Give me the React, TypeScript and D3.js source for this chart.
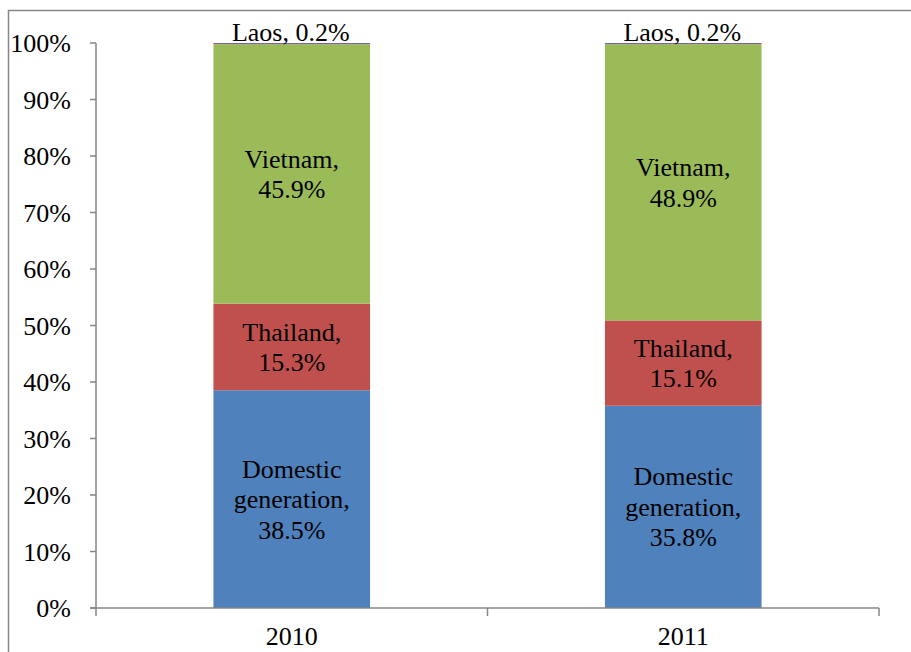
import * as d3 from 'd3'
import React, { useRef, useEffect } from 'react'

const years = ['2010', '2011']
const sources = ['Domestic generation', 'Thailand', 'Vietnam', 'Laos']
const domestic = [38.5, 35.8]
const thailand = [15.3, 15.1]
const vietnam = [45.9, 48.9]
const laos = [0.2, 0.2]
const yTicks = [0, 10, 20, 30, 40, 50, 60, 70, 80, 90, 100]
const colors = ['#4F81BD', '#C0504D', '#9BBB59', '#8064A2']

const labelLines: Record<string, (v: number) => string[]> = {
  'Domestic generation': (v) => ['Domestic', 'generation,', `${v.toFixed(1)}%`],
  Thailand: (v) => ['Thailand,', `${v.toFixed(1)}%`],
  Vietnam: (v) => ['Vietnam,', `${v.toFixed(1)}%`],
}

export default function App() {
  const svgRef = useRef(null)
  const width = 911
  const height = 652

  useEffect(() => {
    const svg = d3.select(svgRef.current)
    svg.selectAll('*').remove()

    const font = '"Liberation Serif", "Times New Roman", serif'
    const left = 96, right = 879, top = 43, bottom = 608

    // chart frame
    svg.append('path')
      .attr('d', `M8.5,${height + 5}V10.5H${width + 5}`)
      .attr('fill', 'none')
      .attr('stroke', '#868686')
      .attr('stroke-width', 1.5)

    const rows = years.map((year, i) => ({
      year,
      'Domestic generation': domestic[i],
      Thailand: thailand[i],
      Vietnam: vietnam[i],
      Laos: laos[i],
    }))

    const stacked = d3.stack<any>().keys(sources).offset(d3.stackOffsetExpand)(rows)

    const x = d3.scaleBand().domain(years).range([left, right]).paddingInner(0.6).paddingOuter(0.3)
    const y = d3.scaleLinear().domain([0, 1]).range([bottom, top])

    const g = svg.append('g')

    stacked.forEach((layer, li) => {
      g.selectAll(null)
        .data(layer)
        .join('rect')
        .attr('x', (d) => x(d.data.year)!)
        .attr('width', x.bandwidth())
        .attr('y', (d) => y(d[1]))
        .attr('height', (d) => Math.max(1, y(d[0]) - y(d[1])))
        .attr('fill', colors[li])
    })

    // segment labels
    const fs = 26
    const lh = 30.5
    stacked.forEach((layer) => {
      const key = layer.key
      layer.forEach((d) => {
        const cx = x(d.data.year)! + x.bandwidth() / 2
        const v = d.data[key] as number
        if (key === 'Laos') {
          g.append('text')
            .attr('x', cx - 1)
            .attr('y', y(d[1]) - 2)
            .attr('text-anchor', 'middle')
            .attr('font-family', font)
            .attr('font-size', fs)
            .attr('fill', '#000')
            .text(`Laos, ${v.toFixed(1)}%`)
          return
        }
        const lines = labelLines[key](v)
        const cy = (y(d[0]) + y(d[1])) / 2
        lines.forEach((line, k) => {
          g.append('text')
            .attr('x', cx)
            .attr('y', cy + 0.35 * fs + (k - (lines.length - 1) / 2) * lh)
            .attr('text-anchor', 'middle')
            .attr('font-family', font)
            .attr('font-size', fs)
            .attr('fill', '#000')
            .text(line)
        })
      })
    })

    // y axis
    const yAxis = svg.append('g')
    yAxis.append('line')
      .attr('x1', left).attr('x2', left)
      .attr('y1', top).attr('y2', bottom)
      .attr('stroke', '#868686').attr('stroke-width', 1.5)
    yTicks.forEach((t) => {
      const ty = y(t / 100)
      yAxis.append('line')
        .attr('x1', left - 6).attr('x2', left)
        .attr('y1', ty).attr('y2', ty)
        .attr('stroke', '#868686').attr('stroke-width', 1.5)
      yAxis.append('text')
        .attr('x', 71)
        .attr('y', ty + 9)
        .attr('text-anchor', 'end')
        .attr('font-family', font)
        .attr('font-size', fs)
        .attr('fill', '#000')
        .text(`${t}%`)
    })

    // x axis
    const xAxis = svg.append('g')
    xAxis.append('line')
      .attr('x1', left - 6).attr('x2', right)
      .attr('y1', bottom).attr('y2', bottom)
      .attr('stroke', '#868686').attr('stroke-width', 1.5)
    const boundaries = [left, (left + right) / 2, right]
    boundaries.forEach((bx) => {
      xAxis.append('line')
        .attr('x1', bx).attr('x2', bx)
        .attr('y1', bottom).attr('y2', bottom + 8)
        .attr('stroke', '#868686').attr('stroke-width', 1.5)
    })
    years.forEach((yr) => {
      xAxis.append('text')
        .attr('x', x(yr)! + x.bandwidth() / 2)
        .attr('y', 645)
        .attr('text-anchor', 'middle')
        .attr('font-family', font)
        .attr('font-size', fs)
        .attr('fill', '#000')
        .text(yr)
    })
  }, [])

  return (
    <svg
      ref={svgRef}
      width={width}
      height={height}
      style={{ position: 'absolute', left: 0, top: 0, background: '#fff' }}
    />
  )
}
